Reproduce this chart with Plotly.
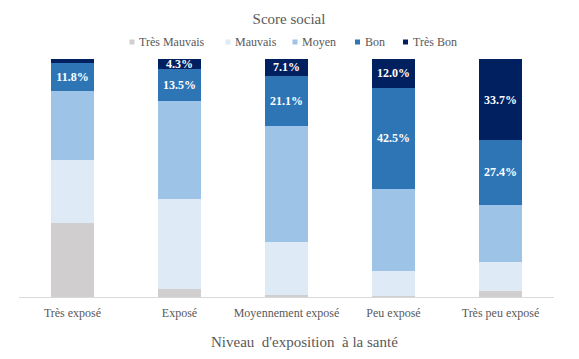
import plotly.graph_objects as go

categories = ["Très exposé", "Exposé", "Moyennement exposé", "Peu exposé", "Très peu exposé"]
series_names = ["Très Mauvais", "Mauvais", "Moyen", "Bon", "Très Bon"]
tres_mauvais = [31.3, 3.4, 0.8, 0.5, 2.5]
mauvais = [26.1, 37.6, 22.3, 10.5, 12.2]
moyen = [29.0, 41.2, 48.7, 34.5, 24.0]
bon = [11.8, 13.5, 21.1, 42.5, 27.4]
tres_bon = [1.7, 4.3, 7.1, 12.0, 33.7]
colors = ["#D0CECE", "#DEEBF7", "#9DC3E6", "#2E75B6", "#002060"]
labelled = [False, False, False, True, True]

FONT = "Liberation Serif"
GREY = "#595959"

# page body has an 8px default margin, so the figure is 8px smaller and shifted
W, H = 571, 351
L, R, T, B = 11, 25, 51, 62
PW, PH = W - L - R, H - T - B


def px_x(fx):
    return (fx - L) / PW


def px_y(fy):
    return (H - B - fy) / PH


fig = go.Figure()
for name, vals, col, lab in zip(series_names, [tres_mauvais, mauvais, moyen, bon, tres_bon], colors, labelled):
    txt = [f"<b>{v:.1f}%</b>" if (lab and v >= 3) else "" for v in vals]
    fig.add_trace(go.Bar(
        name=name, x=categories, y=vals, marker=dict(color=col, line=dict(width=0)),
        text=txt, textposition="inside", insidetextanchor="middle",
        constraintext="none", textangle=0,
        textfont=dict(family=FONT, size=12, color="white"),
        hoverinfo="skip", showlegend=False,
    ))

# custom compact legend (Excel-style)
legend_marker_x = [124, 220, 287, 349.5, 397.5]
legend_y = 34
for name, col, mx in zip(series_names, colors, legend_marker_x):
    fig.add_shape(type="rect", xref="paper", yref="paper",
                  x0=px_x(mx - 2.5), x1=px_x(mx + 2.5),
                  y0=px_y(legend_y + 2.5), y1=px_y(legend_y - 2.5),
                  fillcolor=col, line=dict(width=0))
    fig.add_annotation(text=name, xref="paper", yref="paper",
                       x=px_x(mx + 5), y=px_y(legend_y), xanchor="left", yanchor="middle",
                       showarrow=False, font=dict(family=FONT, size=12, color=GREY))

fig.add_annotation(text="Niveau\u00a0 d'exposition\u00a0 à la santé", xref="paper", yref="paper",
                   x=px_x(296), y=px_y(334), xanchor="center", yanchor="middle",
                   showarrow=False, font=dict(family=FONT, size=15, color=GREY))

fig.update_layout(
    barmode="stack", bargap=0.6,
    width=W, height=H,
    margin=dict(l=L, r=R, t=T, b=B, autoexpand=False),
    paper_bgcolor="white", plot_bgcolor="white",
    font=dict(family=FONT, color=GREY, size=12),
    title=dict(text="Score social", x=281 / W, xanchor="center", yref="container",
               y=1 - 11 / H, yanchor="middle",
               font=dict(family=FONT, size=15, color=GREY)),
    showlegend=False,
)
fig.update_xaxes(showline=True, linecolor="#D9D9D9", linewidth=1, ticks="",
                 automargin=False, ticklabelstandoff=5,
                 tickfont=dict(family=FONT, size=12, color=GREY))
fig.update_yaxes(range=[0, 100], visible=False, showgrid=False, automargin=False)

fig.write_html("out.html")
